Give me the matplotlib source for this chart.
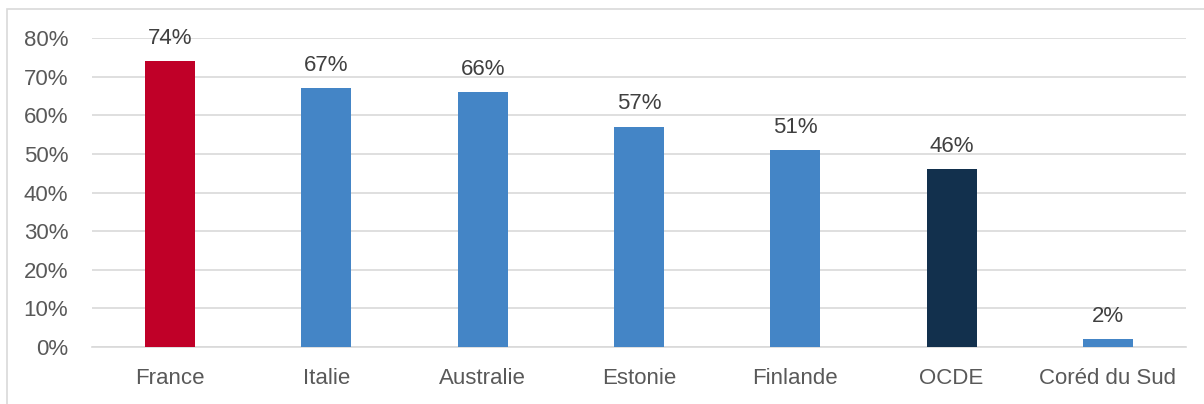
import matplotlib
matplotlib.use("Agg")
import matplotlib.pyplot as plt
from matplotlib.patches import Rectangle
from matplotlib.ticker import PercentFormatter

pays = ["France", "Italie", "Australie", "Estonie", "Finlande", "OCDE", "Coréd du Sud"]
valeurs = [74, 67, 66, 57, 51, 46, 2]
couleurs = ["#C00028", "#4485C6", "#4485C6", "#4485C6", "#4485C6", "#12304D", "#4485C6"]

plt.rcParams["font.family"] = ["Liberation Sans", "DejaVu Sans"]

fig = plt.figure(figsize=(12.04, 4.04), dpi=100)
ax = fig.add_axes([0.0764, 0.141, 0.9086, 0.765])

# cadre gris clair autour du graphique
fig.patches.append(Rectangle((7 / 1204, -0.1), 1.2, (404 - 9) / 404 + 0.1,
                             transform=fig.transFigure, fill=False,
                             edgecolor="#D9D9D9", linewidth=1.2))

x = range(len(pays))
ax.bar(x, valeurs, width=0.32, color=couleurs, zorder=3)
for xi, v in zip(x, valeurs):
    ax.annotate(f"{v}%", (xi, v), xytext=(0, 9), textcoords="offset points",
                ha="center", va="bottom", fontsize=16, color="#404040", zorder=4)

ax.set_xlim(-0.5, len(pays) - 0.5)
ax.set_ylim(0, 80)
ax.set_yticks(range(0, 81, 10))
ax.yaxis.set_major_formatter(PercentFormatter(decimals=0))
ax.set_xticks(list(x))
ax.set_xticklabels(pays)
ax.grid(axis="y", color="#D9D9D9", linewidth=1.2, zorder=0)
ax.tick_params(length=0, labelsize=16, labelcolor="#595959")
ax.tick_params(axis="x", pad=15)
ax.tick_params(axis="y", pad=17)
for s in ax.spines.values():
    s.set_visible(False)
ax.spines["bottom"].set_visible(True)
ax.spines["bottom"].set_color("#D9D9D9")
ax.spines["bottom"].set_linewidth(1.2)

fig.savefig("out.png", dpi=100)
